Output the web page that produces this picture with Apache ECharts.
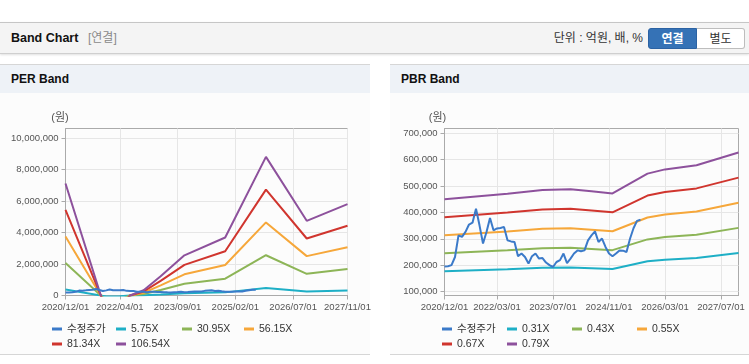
<!DOCTYPE html>
<html><head><meta charset="utf-8">
<script src="https://cdn.jsdelivr.net/npm/echarts@6/dist/echarts.min.js"></script>
<style>
html,body{margin:0;padding:0;width:749px;height:364px;overflow:hidden;background:#fff;font-family:'Liberation Sans','Noto Sans CJK KR',sans-serif;}
.topbar{position:absolute;left:0;top:22px;width:749px;height:30px;background:#f4f4f4;border-top:1px solid #c6c6c6;border-bottom:1px solid #cfcfcf;box-shadow:0 1px 2px rgba(0,0,0,0.12);}
.ttl{position:absolute;left:11px;top:0;line-height:30px;font-weight:bold;font-size:12.5px;color:#111;}
.sub{position:absolute;left:88px;top:0;line-height:30px;font-size:12px;color:#8a8a8a;}
.unit{position:absolute;right:106px;top:0;line-height:30px;font-size:12px;color:#333;}
.btn{position:absolute;top:5px;height:21px;line-height:21px;font-size:12px;text-align:center;box-sizing:border-box;}
.on{left:648px;width:49px;background:#3572b6;color:#fff;font-weight:bold;border:1px solid #2b62a3;border-radius:3px 0 0 3px;}
.off{left:697px;width:48px;background:#fff;color:#333;border:1px solid #bdbdbd;border-left:none;border-radius:0 3px 3px 0;}
.panel{position:absolute;top:64px;height:289px;border-top:1px solid #d6d6d6;border-bottom:1px solid #d6d6d6;background:#fcfcfc;}
.ph{height:28px;line-height:28px;background:#eef2f7;font-weight:bold;font-size:12px;color:#111;padding-left:11px;}
#chart{position:absolute;left:0;top:0;width:749px;height:364px;}
</style>
</head><body>
<div class="topbar">
  <span class="ttl">Band Chart</span><span class="sub">[연결]</span>
  <span class="unit">단위 : 억원, 배, %</span>
  <span class="btn on">연결</span><span class="btn off">별도</span>
</div>
<div class="panel" style="left:0;width:370px"><div class="ph">PER Band</div></div>
<div class="panel" style="left:390px;width:359px"><div class="ph">PBR Band</div></div>
<div id="chart"></div>
<script>
// ---------- data ----------
const perTickLabels = ['2020/12/01','2022/04/01','2023/09/01','2025/02/01','2026/07/01','2027/11/01'];
const pbrTickLabels = ['2020/12/01','2022/03/01','2023/07/01','2024/11/01','2026/03/01','2027/07/01'];
const perYTicks = [0, 2000000, 4000000, 6000000, 8000000, 10000000];
const pbrYTicks = [100000, 200000, 300000, 400000, 500000, 600000, 700000];

// adjusted share price, monthly from 2020/12
const priceValues = [195000,196000,200000,231000,313000,307000,326000,354000,361000,414000,
  351000,282000,326000,379000,332000,339000,341000,345000,294000,290000,
  288000,234000,244000,231000,206000,234000,244000,225000,227000,210000,
  200000,193000,212000,219000,244000,208000,225000,244000,256000,253000,
  256000,294000,313000,328000,288000,301000,269000,244000,234000,244000,
  256000,255000,250000,300000,340000,368000,372000];

// PER band (vertex dates)
const perKnotDates = ['2020/12/01','2021/12/01','2022/04/01','2022/07/01','2022/11/01','2023/04/01','2023/11/01','2024/11/01','2025/11/01','2026/11/01','2027/11/01'];
const per575  = [383800, -59200, -46000, 0, 17800, 65800, 137600, 198600, 475000, 255800, 313000];
const per3095 = [2065600, -318800, -247600, 0, 95900, 354400, 740600, 1069000, 2556500, 1377000, 1684900];
const per5615 = [3747500, -578300, -449200, 0, 174100, 642900, 1343700, 1939400, 4638000, 2498100, 3056800];
const per8134 = [5428600, -837800, -650700, 0, 252200, 931300, 1946500, 2809500, 6718700, 3618800, 4428100];
const per10654 = [7110500, -1097400, -852300, 0, 330300, 1219900, 2549500, 3679900, 8800200, 4740000, 5800000];

// PBR band (vertex dates)
const pbrKnotDates = ['2020/12/01','2022/06/01','2023/04/01','2023/12/01','2024/06/01','2024/12/01','2025/10/01','2026/03/01','2026/12/01','2027/12/01'];
const pbr031 = [176600, 184800, 190300, 191500, 188400, 185200, 214600, 220900, 227200, 246000];
const pbr043 = [244900, 256400, 264000, 265600, 261300, 256900, 297700, 306500, 315100, 341300];
const pbr055 = [313300, 327900, 337600, 339700, 334200, 328600, 380800, 392000, 403100, 436500];
const pbr067 = [381600, 399500, 411300, 413900, 407100, 400300, 463900, 477500, 491000, 531800];
const pbr079 = [450000, 471000, 485000, 488000, 480000, 472000, 547000, 563000, 579000, 627000];

const perNames = ['수정주가','5.75X','30.95X','56.15X','81.34X','106.54X'];
const pbrNames = ['수정주가','0.31X','0.43X','0.55X','0.67X','0.79X'];
const colors = ['#3b7ac9','#1eafc6','#8db557','#f6a73a','#d0352e','#8d519c'];

// ---------- build ----------
function monthList(y, m, n){ const out=[]; for(let i=0;i<n;i++){ out.push(y+'/'+String(m).padStart(2,'0')+'/01'); m++; if(m>12){m=1;y++;} } return out; }
const perCategories = monthList(2020, 12, 84);
const pbrCategories = monthList(2020, 12, 85);
function knot(dates, vals){ return dates.map((d,i)=>[d, vals[i]]); }

const axisFont = "'Liberation Sans','Noto Sans CJK KR',sans-serif";
const txtFont = "'Liberation Sans','Noto Sans CJK KR',sans-serif";

function xAxis(gi, cats, ticks){
  const f = (i, v) => ticks.indexOf(v) >= 0;
  return { type:'category', gridIndex:gi, data:cats, boundaryGap:false,
    axisLine:{ lineStyle:{ color:'#aaaaaa' } },
    axisTick:{ interval:f, length:4, lineStyle:{ color:'#aaaaaa' } },
    axisLabel:{ interval:f, showMinLabel:true, showMaxLabel:true, hideOverlap:false,
      color:'#555', fontSize:9.5, fontFamily:axisFont, margin:7 },
    splitLine:{ show:true, interval:f, lineStyle:{ color:'#e6e6e6' } } };
}
function yAxis(gi, min, max, ticks, padR){
  return { type:'value', gridIndex:gi, min:min, max:max,
    name:'(원)', nameLocation:'end', nameGap:5,
    nameTextStyle:{ color:'#555', fontSize:11, fontFamily:txtFont, padding:[0,padR,0,0] },
    axisLine:{ show:true, lineStyle:{ color:'#aaaaaa' } },
    axisTick:{ show:true, length:4, customValues:ticks, lineStyle:{ color:'#aaaaaa' } },
    axisLabel:{ customValues:ticks, showMinLabel:true, showMaxLabel:true,
      color:'#555', fontSize:9.5, fontFamily:axisFont, margin:7 },
    splitLine:{ show:true, lineStyle:{ color:'#e6e6e6' } } };
}
function line(name, data, ci, gi, z){
  return { type:'line', name:name, data:data, xAxisIndex:gi, yAxisIndex:gi, symbol:'none',
    lineStyle:{ width:2, color:colors[ci] }, itemStyle:{ color:colors[ci] }, z:z||2, animation:false };
}
const perBands = [per575, per3095, per5615, per8134, per10654];
const pbrBands = [pbr031, pbr043, pbr055, pbr067, pbr079];
const series = [ line(perNames[0], priceValues, 0, 0, 3) ];
perBands.forEach((v,i)=>series.push(line(perNames[i+1], knot(perKnotDates, v), i+1, 0)));
series.push(line(pbrNames[0], priceValues, 0, 1, 3));
pbrBands.forEach((v,i)=>series.push(line(pbrNames[i+1], knot(pbrKnotDates, v), i+1, 1)));

const legends = [];
function leg(name, left, top){
  legends.push({ data:[name], left:left, top:top, padding:0, itemWidth:10, itemHeight:3, icon:'rect',
    selectedMode:false, textStyle:{ color:'#333', fontSize:10.5, fontFamily:txtFont, lineHeight:14 } });
}
const perLegX = [52, 116, 182, 244], pbrLegX = [442, 507, 572, 637];
perNames.forEach((n,i)=>leg(n, perLegX[i%4], i<4 ? 322 : 337));
pbrNames.forEach((n,i)=>leg(n, pbrLegX[i%4], i<4 ? 322 : 337));

const chart = echarts.init(document.getElementById('chart'), null, { renderer:'canvas' });
chart.setOption({
  animation:false,
  backgroundColor:'transparent',
  grid:[
    { left:65.5, top:128.5, width:282, height:167, show:true, borderColor:'#aaaaaa', borderWidth:1, backgroundColor:'transparent' },
    { left:444.5, top:128.5, width:294, height:167, show:true, borderColor:'#aaaaaa', borderWidth:1, backgroundColor:'transparent' }
  ],
  xAxis:[ xAxis(0, perCategories, perTickLabels), xAxis(1, pbrCategories, pbrTickLabels) ],
  yAxis:[ yAxis(0, 0, 10600000, perYTicks, 11), yAxis(1, 85000, 718000, pbrYTicks, 14) ],
  legend: legends,
  series: series
});
</script>
</body></html>
